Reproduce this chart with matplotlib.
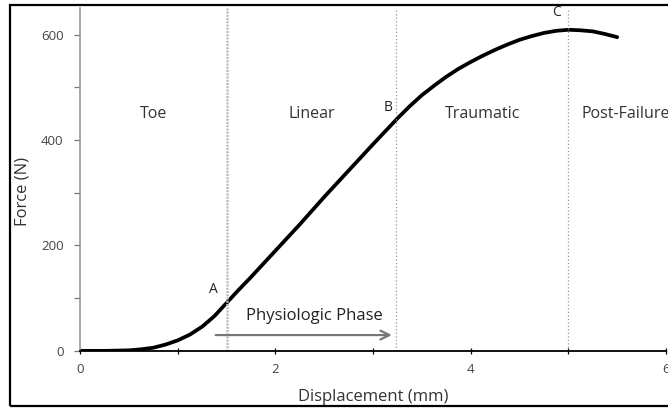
import matplotlib.pyplot as plt
from matplotlib.patches import Rectangle

plt.rcParams['font.family'] = ['Open Sans', 'DejaVu Sans']

# force-displacement curve
disp = [0.0, 0.25, 0.5, 0.625, 0.75, 0.875, 1.0, 1.125, 1.25, 1.375, 1.5, 1.625,
        1.75, 2.0, 2.25, 2.5, 2.75, 3.0, 3.25, 3.375, 3.5, 3.625, 3.75, 3.875,
        4.0, 4.125, 4.25, 4.375, 4.5, 4.625, 4.75, 4.875, 5.0, 5.125, 5.25,
        5.375, 5.5]
force = [0, 0, 1, 3, 6, 12, 20, 31, 46, 66, 91, 116,
         140, 190, 240, 292, 342, 392, 441, 464, 485, 503, 520, 535,
         548, 560, 571, 581, 590, 597, 603, 607, 609, 608, 606,
         601, 595]

# phase boundaries and labels
bounds = [1.5, 3.23, 5.0]
phases = ['Toe', 'Linear', 'Traumatic', 'Post-Failure']
phase_x = [0.75, 2.37, 4.12, 5.13]
points = ['A', 'B', 'C']
point_xy = [(1.36, 117), (3.15, 462), (4.88, 642)]

fig = plt.figure(figsize=(6.68, 4.08), dpi=100)
ax = fig.add_axes([0.12, 0.14, 0.877, 0.84])

ax.plot(disp, force, color='black', lw=2.7, solid_capstyle='round')

ax.vlines(bounds[0], 0, 650, color='#bdbdbd', lw=1.8, linestyles=(0, (0.8, 0.5)))
ax.vlines(bounds[1:], 0, 650, color='#999999', lw=0.9, linestyles=(0, (1, 1.8)))

for lab, xx in zip(phases, phase_x):
    ha = 'left' if lab == 'Post-Failure' else 'center'
    ax.text(xx, 449, lab, ha=ha, va='center', fontsize=11.5, color='#333333', clip_on=False)
for lab, (xx, yy) in zip(points, point_xy):
    ax.text(xx, yy, lab, ha='center', va='center', fontsize=10, color='#222222')

# physiologic phase arrow
ax.annotate('', xy=(3.22, 30), xytext=(1.36, 30),
            arrowprops=dict(arrowstyle='->', color='#777777', lw=1.6, mutation_scale=16))
ax.text(2.4, 66, 'Physiologic Phase', ha='center', va='center', fontsize=12, color='#222222')

ax.set_xlim(0, 6)
ax.set_ylim(0, 650)
ax.set_xticks([0, 2, 4, 6])
ax.set_xticks([1, 3, 5], minor=True)
ax.set_yticks([0, 200, 400, 600])
ax.set_yticks([100, 300, 500], minor=True)
ax.tick_params(axis='both', which='both', labelsize=9.5, labelcolor='#444444', length=4, width=0.9)
ax.tick_params(axis='x', which='both', direction='inout', pad=7)
ax.tick_params(axis='y', which='both', color='#777777', pad=8)

for s in ['top', 'right']:
    ax.spines[s].set_visible(False)
ax.spines['left'].set_color('#999999')
ax.spines['left'].set_linewidth(1.2)
ax.spines['bottom'].set_color('black')
ax.spines['bottom'].set_linewidth(1.3)

ax.set_xlabel('Displacement (mm)', fontsize=12, color='#333333', labelpad=9)
ax.set_ylabel('Force (N)', fontsize=12, color='#333333')
ax.yaxis.set_label_coords(-0.085, 0.466)

fig.add_artist(Rectangle((0.015, 0.004), 1.1, 0.984, transform=fig.transFigure,
                         fill=False, edgecolor='black', lw=1.6, clip_on=False))

fig.savefig('out.png', dpi=100)
